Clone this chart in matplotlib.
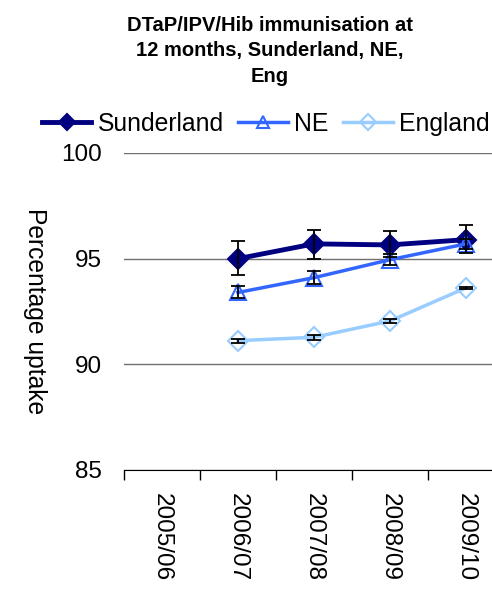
import matplotlib.pyplot as plt
import numpy as np

plt.rcParams['font.family'] = ['Liberation Sans', 'DejaVu Sans']

years = ["2005/06", "2006/07", "2007/08", "2008/09", "2009/10"]

# values per year (2005/06 has no data)
sunderland = [np.nan, 95.0, 95.7, 95.65, 95.9]
sunderland_lo = [np.nan, 94.25, 95.0, 95.1, 95.25]
sunderland_hi = [np.nan, 95.85, 96.35, 96.3, 96.6]

ne = [np.nan, 93.4, 94.1, 94.95, 95.7]
ne_lo = [np.nan, 93.15, 93.8, 94.7, 95.45]
ne_hi = [np.nan, 93.7, 94.4, 95.2, 95.95]

england = [np.nan, 91.12, 91.28, 92.05, 93.62]
england_lo = [np.nan, 91.02, 91.17, 91.95, 93.58]
england_hi = [np.nan, 91.22, 91.39, 92.15, 93.66]

fig = plt.figure(figsize=(4.92, 5.9), dpi=100)
ax = fig.add_axes([0.252, 0.2034, 0.7724, 0.5373])

x = np.arange(len(years))


def draw(vals, lo, hi, color, marker, lw, ms, filled, label):
    vals = np.array(vals)
    err = np.vstack((vals - np.array(lo), np.array(hi) - vals))
    ax.errorbar(x, vals, yerr=err, fmt='none', ecolor='black', elinewidth=1.3,
                capsize=5, capthick=1.3, zorder=4)
    ax.plot(x, vals, color=color, lw=lw, marker=marker, ms=ms,
            markerfacecolor=color if filled else 'none',
            markeredgecolor=color, markeredgewidth=1.5, label=label, zorder=3)


draw(sunderland, sunderland_lo, sunderland_hi, '#000080', 'D', 3.5, 10, True, 'Sunderland')
draw(ne, ne_lo, ne_hi, '#3366FF', '^', 2.5, 11, False, 'NE')
draw(england, england_lo, england_hi, '#99CCFF', 'D', 2.5, 10, False, 'England')

ax.set_ylim(85, 100)
ax.set_xlim(-0.5, 4.5)
ax.set_yticks([85, 90, 95, 100])
ax.yaxis.grid(True, color='#707070', lw=1)
ax.set_axisbelow(True)
for s in ['top', 'right', 'left']:
    ax.spines[s].set_visible(False)
ax.spines['bottom'].set_color('black')
ax.tick_params(axis='y', length=0, labelsize=17.5, pad=16)
ax.set_xticks(x)
ax.set_xticklabels(years, rotation=-90, fontsize=17.5)
ax.set_xticks(np.arange(-0.5, 5, 1), minor=True)
ax.tick_params(axis='x', which='major', length=0, pad=16.5)
ax.tick_params(axis='x', which='minor', length=7, width=1)

ax.set_ylabel("Percentage uptake", rotation=-90, fontsize=17.7, va='center')
ax.yaxis.set_label_coords(-0.234, 0.5)

fig.text(0.549, 0.9136, "DTaP/IPV/Hib immunisation at\n12 months, Sunderland, NE,\nEng",
         ha='center', va='center', fontsize=14.5, fontweight='bold', linespacing=1.45)

fig.legend(loc='center', bbox_to_anchor=(0.54, 0.79), ncol=3, frameon=False,
           fontsize=17.8, numpoints=1, handlelength=2.0, handletextpad=0.25,
           columnspacing=0.6, markerscale=0.8, borderpad=0.1)

fig.savefig('out.png', dpi=100)
